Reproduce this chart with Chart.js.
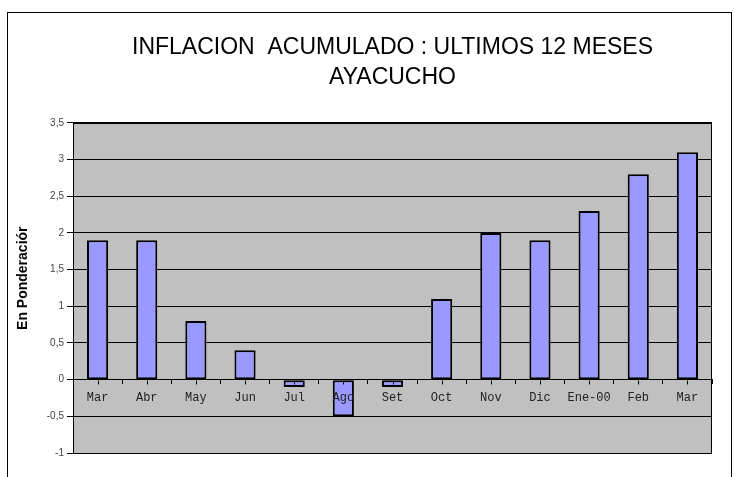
<!DOCTYPE html>
<html><head><meta charset="utf-8">
<script src="https://cdn.jsdelivr.net/npm/chart.js@4/dist/chart.umd.min.js"></script>
<style>
html,body{margin:0;padding:0;background:#fff;overflow:hidden;width:734px;height:477px}
#wrap{position:relative;width:734px;height:477px}
#frame{position:absolute;left:7px;top:12px;width:725px;height:480px;border:1px solid #000;box-sizing:border-box;pointer-events:none}
canvas{position:absolute;left:0;top:0}
</style></head><body>
<div id="wrap"><canvas id="c" width="734" height="477"></canvas><div id="frame"></div></div>
<script>
const titleLines = ['INFLACION  ACUMULADO : ULTIMOS 12 MESES', 'AYACUCHO'];
const yAxisTitle = 'En Ponderaciór';
const categories = ['Mar','Abr','May','Jun','Jul','Ago','Set','Oct','Nov','Dic','Ene-00','Feb','Mar'];
const values = [1.9, 1.9, 0.8, 0.4, -0.1, -0.5, -0.1, 1.1, 2.0, 1.9, 2.3, 2.8, 3.1];
const yTickValues = [-1, -0.5, 0, 0.5, 1, 1.5, 2, 2.5, 3, 3.5];

const plotDeco = {
  id: 'plotDeco',
  beforeDraw(chart) {
    const a = chart.chartArea, ctx = chart.ctx;
    ctx.save();
    ctx.fillStyle = '#C0C0C0';
    ctx.fillRect(a.left, a.top, a.right - a.left, a.bottom - a.top);
    ctx.restore();
  },
  afterDraw(chart) {
    const a = chart.chartArea, ctx = chart.ctx;
    const xs = chart.scales.x, ys = chart.scales.y;
    ctx.save();
    ctx.strokeStyle = '#000';
    ctx.lineWidth = 1;
    ctx.strokeRect(Math.round(a.left) + 0.5, Math.round(a.top) + 0.5, Math.round(a.right - a.left) - 1, Math.round(a.bottom - a.top));
    const y0 = Math.round(ys.getPixelForValue(0)) + 0.5;
    ctx.beginPath();
    for (let i = 0; i < categories.length; i++) {
      const x = Math.round(xs.getPixelForValue(i)) + 0.5;
      ctx.moveTo(x, y0); ctx.lineTo(x, y0 + 4);
    }
    ctx.stroke();
    ctx.restore();
  }
};

new Chart(document.getElementById('c'), {
  type: 'bar',
  data: {
    labels: categories,
    datasets: [{
      data: values,
      backgroundColor: '#9999FF',
      borderColor: '#000',
      borderWidth: 2,
      borderSkipped: false,
      barPercentage: 0.43,
      categoryPercentage: 1
    }]
  },
  options: {
    responsive: false,
    animation: false,
    devicePixelRatio: 1,
    layout: { padding: { left: 0, right: 22, top: 0, bottom: 24 } },
    plugins: {
      legend: { display: false },
      tooltip: { enabled: false },
      title: {
        display: true,
        text: titleLines,
        fullSize: false,
        color: '#000',
        font: { family: 'Liberation Sans', size: 23, weight: 'normal', lineHeight: 1.28 },
        padding: { top: 33, bottom: 31 }
      }
    },
    scales: {
      x: {
        type: 'category',
        position: { y: 0 },
        offset: true,
        grid: { display: true, drawOnChartArea: false, drawTicks: true, tickLength: 4, color: '#000', offset: true, z: 1 },
        border: { display: true, color: '#000', z: 1 },
        ticks: { font: { family: 'Liberation Mono', size: 12 }, color: '#222', padding: 7, maxRotation: 0, autoSkip: false, z: 1 }
      },
      y: {
        min: -1,
        max: 3.5,
        afterBuildTicks(s) { s.ticks = yTickValues.map(v => ({ value: v })); },
        afterFit(s) { s.width = 73; },
        grid: { color: '#000', tickLength: 6, drawTicks: true },
        border: { color: '#000' },
        ticks: {
          font: { family: 'Liberation Sans', size: 10 },
          color: '#444',
          padding: 3,
          callback: v => String(v).replace('.', ',')
        },
        title: {
          display: true,
          text: '     ' + yAxisTitle,
          color: '#000',
          font: { family: 'Liberation Sans', size: 14, weight: 'bold' },
          padding: { top: 15, bottom: 0 }
        }
      }
    }
  },
  plugins: [plotDeco]
});
</script>
</body></html>
